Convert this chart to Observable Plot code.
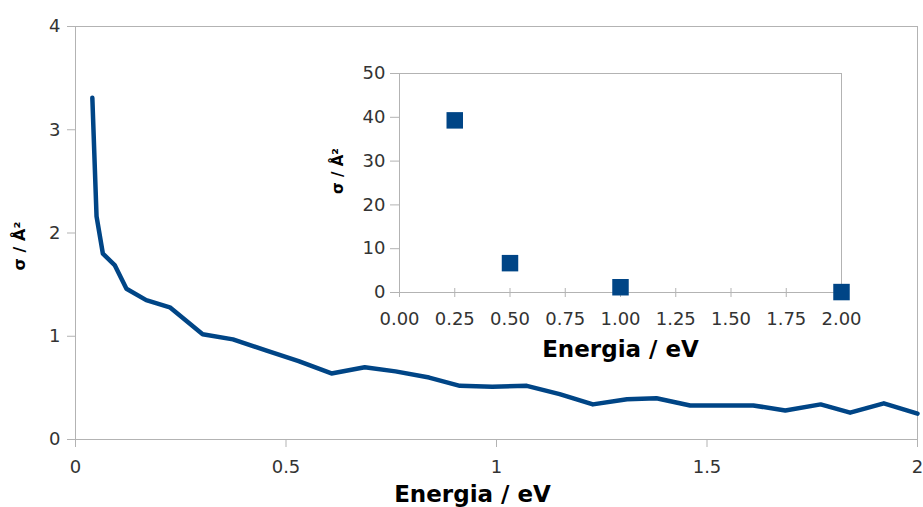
<!DOCTYPE html>
<html>
<head>
<meta charset="utf-8">
<script src="https://cdn.jsdelivr.net/npm/d3@7"></script>
<script src="https://cdn.jsdelivr.net/npm/@observablehq/plot@0.6"></script>
<style>
  html, body { margin: 0; padding: 0; background: #fff; }
  #chart { position: relative; width: 923px; height: 507px; overflow: hidden; }
  #inset { position: absolute; left: 330px; top: 60px; }
</style>
</head>
<body>
<div id="chart">
  <div id="main"></div>
  <div id="inset"></div>
</div>
<script>
// Cross section σ (Å²) against energy (eV): continuous curve
const curveEnergy = [0.04, 0.05, 0.065, 0.093, 0.121, 0.168, 0.224, 0.302, 0.374, 0.454, 0.53, 0.608, 0.687, 0.76, 0.84, 0.913, 0.99, 1.072, 1.15, 1.229, 1.31, 1.38, 1.46, 1.53, 1.61, 1.686, 1.77, 1.84, 1.92, 2.0];
const curveSigma  = [3.31, 2.16, 1.80, 1.69, 1.46, 1.35, 1.28, 1.02, 0.97, 0.86, 0.76, 0.64, 0.70, 0.66, 0.60, 0.52, 0.51, 0.52, 0.44, 0.34, 0.39, 0.40, 0.33, 0.33, 0.33, 0.28, 0.34, 0.26, 0.35, 0.25];

// Inset: discrete points
const insetEnergy = [0.25, 0.5, 1.0, 2.0];
const insetSigma  = [39.3, 6.7, 1.2, 0.1];

// Tick values and labels
const mainXTicks = [0, 0.5, 1, 1.5, 2];
const mainXTickLabels = ["0", "0.5", "1", "1.5", "2"];
const mainYTicks = [0, 1, 2, 3, 4];
const mainYTickLabels = ["0", "1", "2", "3", "4"];
const insetXTicks = [0, 0.25, 0.5, 0.75, 1, 1.25, 1.5, 1.75, 2];
const insetXTickLabels = ["0.00", "0.25", "0.50", "0.75", "1.00", "1.25", "1.50", "1.75", "2.00"];
const insetYTicks = [0, 10, 20, 30, 40, 50];
const insetYTickLabels = ["0", "10", "20", "30", "40", "50"];

const xTitle = "Energia / eV";
const yTitle = "σ / Å²";

const curve = curveEnergy.map((e, i) => ({energia: e, sigma: curveSigma[i]}));
const points = insetEnergy.map((e, i) => ({energia: e, sigma: insetSigma[i]}));

const blue = "#004586";
const axisGray = "#b3b3b3";
const labelColor = "#333";
const labelOf = (ticks, labels) => d => labels[ticks.indexOf(d)];
const baseStyle = {fontFamily: "'DejaVu Sans', sans-serif", fontSize: "18px", background: "transparent", overflow: "visible"};

const main = Plot.plot({
  width: 923,
  height: 507,
  marginLeft: 75,
  marginRight: 6,
  marginTop: 26,
  marginBottom: 68,
  style: baseStyle,
  x: {domain: [0, 2]},
  y: {domain: [0, 4]},
  marks: [
    Plot.frame({stroke: axisGray}),
    Plot.axisX(mainXTicks, {tickSize: 8, tickPadding: 13, tickFormat: labelOf(mainXTicks, mainXTickLabels), stroke: axisGray, fill: labelColor, label: null}),
    Plot.axisY(mainYTicks, {tickSize: 8, tickPadding: 7, tickFormat: labelOf(mainYTicks, mainYTickLabels), stroke: axisGray, fill: labelColor, label: null}),
    Plot.line(curve, {x: "energia", y: "sigma", stroke: blue, strokeWidth: 4.5, strokeLinejoin: "round", strokeLinecap: "round"}),
    Plot.text([xTitle], {frameAnchor: "bottom", lineAnchor: "top", dy: 46, dx: -24, fontWeight: "bold", fontSize: 23, fill: "#000"}),
    Plot.text([yTitle], {frameAnchor: "left", textAnchor: "middle", rotate: -90, dx: -56, dy: 13, fontWeight: "bold", fontSize: 16, fill: "#000"})
  ]
});
document.getElementById("main").append(main);

const inset = Plot.plot({
  width: 520,
  height: 310,
  marginLeft: 69,
  marginRight: 9,
  marginTop: 13,
  marginBottom: 78,
  style: baseStyle,
  x: {domain: [0, 2]},
  y: {domain: [0, 50]},
  marks: [
    Plot.frame({stroke: axisGray}),
    Plot.axisX(insetXTicks, {tickSize: 5, tickPadding: 15, tickFormat: labelOf(insetXTicks, insetXTickLabels), stroke: axisGray, fill: labelColor, label: null}),
    Plot.axisX(insetXTicks, {tickSize: -4, tickFormat: () => "", stroke: axisGray, label: null}),
    Plot.axisY(insetYTicks, {tickSize: 9, tickPadding: 5, tickFormat: labelOf(insetYTicks, insetYTickLabels), stroke: axisGray, fill: labelColor, label: null}),
    Plot.dot(points, {x: "energia", y: "sigma", symbol: "square", r: 9.3, fill: blue}),
    Plot.text([xTitle], {frameAnchor: "bottom", lineAnchor: "top", dy: 48, fontWeight: "bold", fontSize: 23, fill: "#000"}),
    Plot.text([yTitle], {frameAnchor: "left", textAnchor: "middle", rotate: -90, dx: -61, dy: -12, fontWeight: "bold", fontSize: 15, fill: "#000"})
  ]
});
document.getElementById("inset").append(inset);
</script>
</body>
</html>
